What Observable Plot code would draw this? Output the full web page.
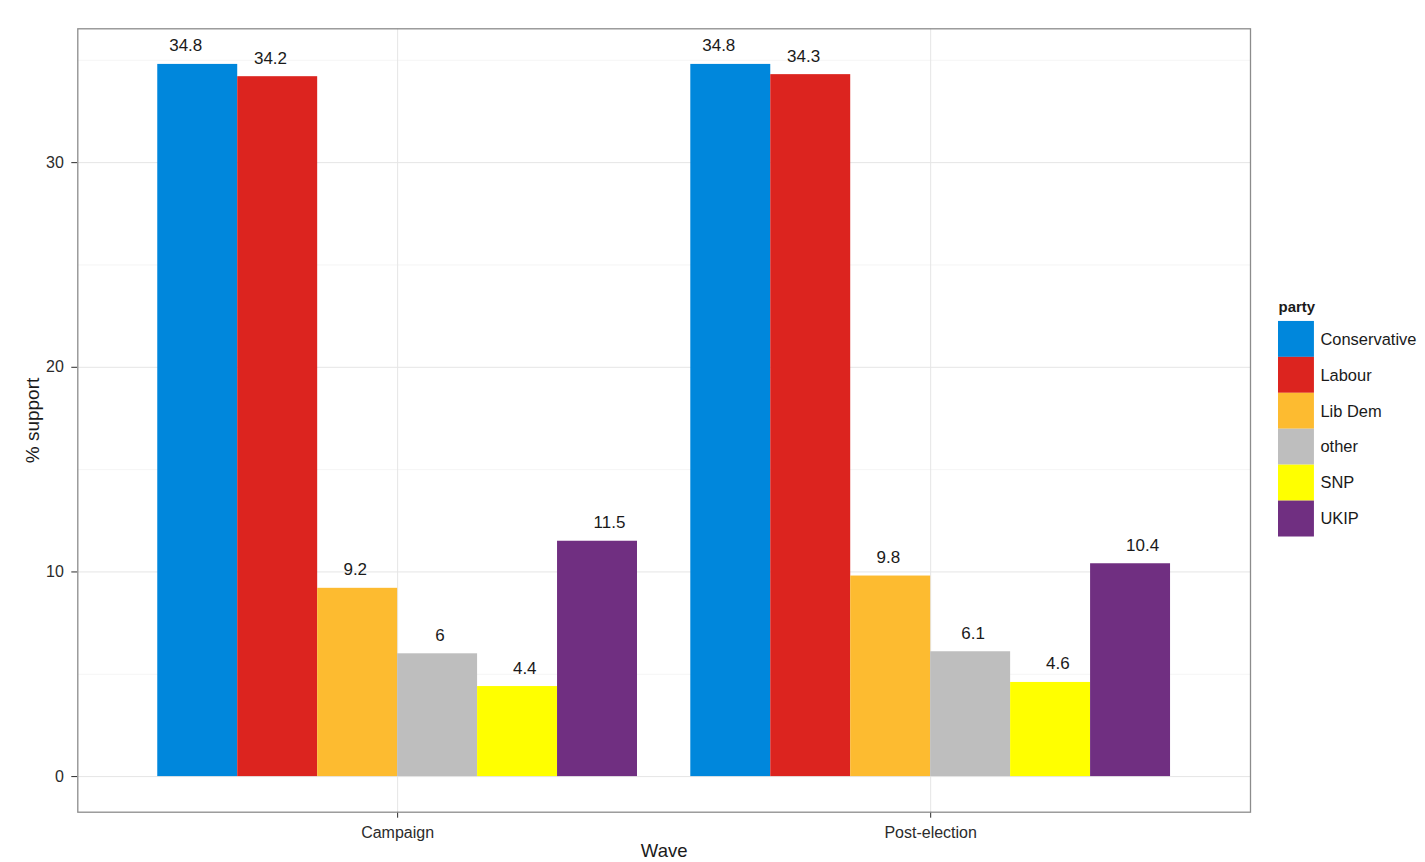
<!DOCTYPE html>
<html><head><meta charset="utf-8">
<script src="https://cdn.jsdelivr.net/npm/d3@7"></script>
<script src="https://cdn.jsdelivr.net/npm/@observablehq/plot@0.6"></script>
<style>
html,body{margin:0;padding:0;background:#fff;}
#wrap{position:relative;width:1425px;height:862px;overflow:hidden;}
#legend{position:absolute;left:1278.3px;top:294px;}
</style></head><body><div id="wrap"><div id="chart"></div><div id="legend"></div></div>
<script>
// ---- data ----
const waves = ["Campaign", "Post-election"];
const parties = ["Conservative", "Labour", "Lib Dem", "other", "SNP", "UKIP"];
const campaignSupport = [34.8, 34.2, 9.2, 6, 4.4, 11.5];
const postElectionSupport = [34.8, 34.3, 9.8, 6.1, 4.6, 10.4];
const partyColors = ["#0087DC", "#DC241F", "#FDBB30", "#BEBEBE", "#FFFF00", "#702F81"];
const yTicks = [0, 10, 20, 30];
const yMinorTicks = [5, 15, 25, 35];
const xTitle = "Wave";
const yTitle = "% support";
const legendTitle = "party";

// ---- table ----
const seriesByWave = [campaignSupport, postElectionSupport];
const rows = waves.flatMap((wave, w) =>
  parties.map((party, p) => ({wave, w: w + 1, party, p, value: seriesByWave[w][p]})));
const xTickPos = waves.map((_, i) => i + 1);

const n = parties.length;
const groupWidth = 0.9;
const barW = groupWidth / n;
const labelStep = 0.159;

const font = "'Liberation Sans', Arial, sans-serif";
const ink = "#1a1a1a";

const chart = Plot.plot({
  width: 1425,
  height: 862,
  marginTop: 28.3,
  marginRight: 175,
  marginBottom: 50.3,
  marginLeft: 77.3,
  style: {fontFamily: font, fontSize: "16px", color: "#2b2b2b", background: "#fff", overflow: "visible"},
  x: {domain: [0.4, 2.6], ticks: xTickPos, tickFormat: d => waves[d - 1], tickSize: 6, tickPadding: 8, label: null},
  y: {domain: [-1.74, 36.54], ticks: yTicks, tickSize: 6, tickPadding: 8, label: null},
  color: {domain: parties, range: partyColors},
  marks: [
    Plot.ruleY(yMinorTicks, {stroke: "#f5f5f5", strokeWidth: 1}),
    Plot.ruleY(yTicks, {stroke: "#e5e5e5", strokeWidth: 1}),
    Plot.ruleX(xTickPos, {stroke: "#e5e5e5", strokeWidth: 1}),
    Plot.rect(rows, {
      x1: d => d.w - groupWidth / 2 + d.p * barW,
      x2: d => d.w - groupWidth / 2 + (d.p + 1) * barW,
      y1: 0,
      y2: "value",
      fill: "party"
    }),
    Plot.text(rows, {
      x: d => d.w + (d.p - (n - 1) / 2) * labelStep,
      y: "value",
      text: d => String(d.value),
      lineAnchor: "bottom",
      dy: -13,
      fontSize: 17,
      fill: ink
    }),
    Plot.frame({stroke: "#8c8c8c", strokeWidth: 1.3}),
    Plot.text([yTitle], {text: d => d, frameAnchor: "left", textAnchor: "middle", lineAnchor: "middle", rotate: -90, dx: -45, fontSize: 19, fill: ink}),
    Plot.text([xTitle], {text: d => d, frameAnchor: "bottom", textAnchor: "middle", lineAnchor: "bottom", dy: 45, fontSize: 18.5, fill: ink})
  ]
});
document.getElementById("chart").appendChild(chart);

const legend = Plot.plot({
  width: 147,
  height: 245,
  marginTop: 25,
  marginBottom: 0,
  marginLeft: 0,
  marginRight: 111,
  style: {fontFamily: font, fontSize: "16px", background: "transparent", overflow: "visible"},
  y: {domain: parties, padding: 0, axis: null},
  color: {domain: parties, range: partyColors},
  marks: [
    Plot.cell(parties, {y: d => d, fill: d => d, inset: 0}),
    Plot.text(parties, {y: d => d, text: d => d, frameAnchor: "right", textAnchor: "start", dx: 6, fontSize: 16.5, fill: ink}),
    Plot.text([legendTitle], {text: d => d, frameAnchor: "top-left", textAnchor: "start", lineAnchor: "bottom", dy: -7, fontSize: 15, fontWeight: "bold", fill: ink})
  ]
});
document.getElementById("legend").appendChild(legend);
</script>
</body></html>
